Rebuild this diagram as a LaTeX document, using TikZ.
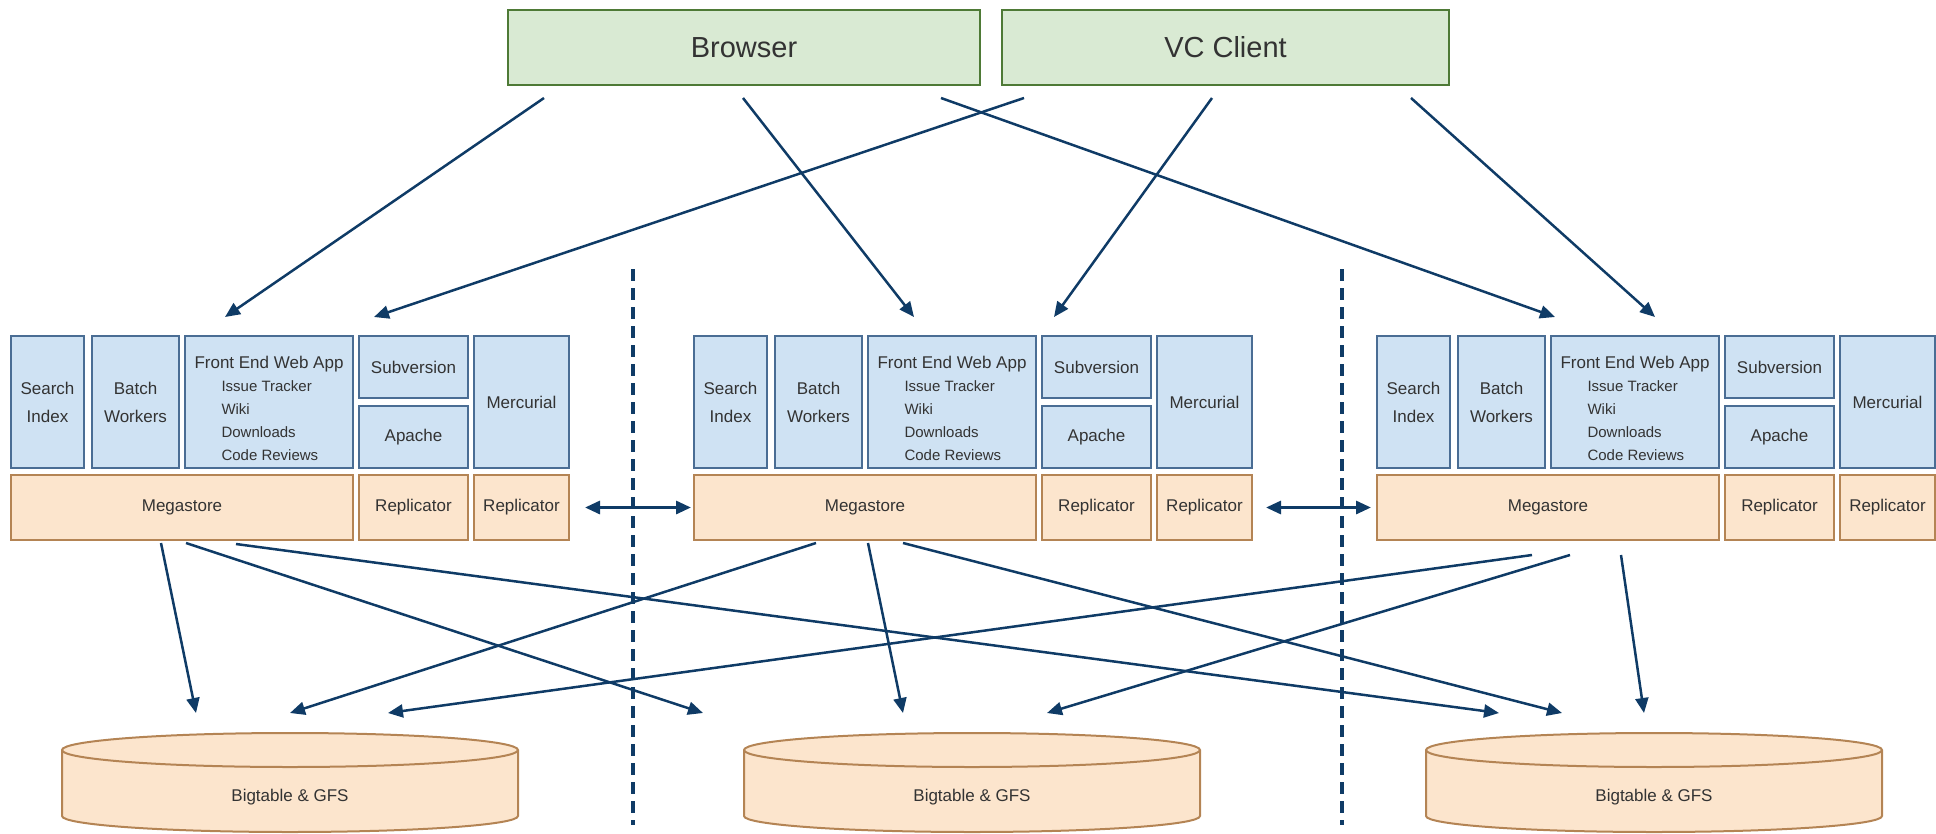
\documentclass[tikz,border=0pt]{standalone}
\usepackage{fontspec}
\setmainfont{Liberation Sans}
\usetikzlibrary{arrows.meta,calc}

\definecolor{boxblue}{HTML}{CFE2F3}
\definecolor{lineblue}{HTML}{4A6D94}
\definecolor{boxpeach}{HTML}{FCE5CD}
\definecolor{linepeach}{HTML}{B48454}
\definecolor{boxgreen}{HTML}{D9EAD3}
\definecolor{linegreen}{HTML}{4E7A36}
\definecolor{navy}{HTML}{0F3B66}
\definecolor{labelgray}{HTML}{333333}

\tikzset{
	client/.style={draw=linegreen, fill=boxgreen, line width=2pt, minimum height=75pt, inner sep=0pt, font=\fontsize{29}{34}\selectfont, text=labelgray},
	service/.style={draw=lineblue, fill=boxblue, line width=2pt, inner sep=0pt, align=center, font=\fontsize{17}{28}\selectfont, text=labelgray},
	tall/.style={minimum height=132pt},
	half/.style={minimum width=109pt, minimum height=62pt},
	webapp/.style={service, tall, minimum width=168pt, align=left, font=\fontsize{15}{23}\selectfont},
	store/.style={draw=linepeach, fill=boxpeach, line width=2pt, minimum height=65pt, inner sep=0pt, font=\fontsize{17}{20}\selectfont, text=labelgray},
	disk/.style={draw=linepeach, fill=boxpeach, line width=2pt},
	disklabel/.style={font=\fontsize{17}{20}\selectfont, text=labelgray},
	link/.style={navy, line width=2.5pt, -{Triangle[length=15pt,width=13pt]}},
	sync/.style={navy, line width=3pt, {Triangle[length=15pt,width=13pt]}-{Triangle[length=15pt,width=13pt]}},
	border/.style={navy, line width=4.5pt, dash pattern=on 12pt off 7pt},
}

\newcommand{\webapptext}{{\rule{0pt}{26pt}\fontsize{17}{23}\selectfont Front End Web App}\\\hspace*{27pt}Issue Tracker\\\hspace*{27pt}Wiki\\\hspace*{27pt}Downloads\\\hspace*{27pt}Code Reviews}

\begin{document}
\begin{tikzpicture}[x=1pt, y=-1pt]
	\useasboundingbox (0,0) rectangle (1936,833);

	% clients
	\node (br) [client, minimum width=472pt] at (744,47.5) {Browser};
	\node (vc) [client, minimum width=447pt] at (1225.5,47.5) {VC Client};

	% first site
	\node (si1) [service, tall, minimum width=73pt] at (47.5,402) {Search\\Index};
	\node (bw1) [service, tall, minimum width=87pt] at (135.5,402) {Batch\\Workers};
	\node (fe1) [webapp] at (269,402) {\webapptext};
	\node (sv1) [service, half] at (413.5,367) {Subversion};
	\node (ap1) [service, half] at (413.5,437) {Apache};
	\node (me1) [service, tall, minimum width=95pt] at (521.5,402) {Mercurial};
	\node (ms1) [store, minimum width=342pt] at (182,507.5) {Megastore};
	\node (ra1) [store, minimum width=109pt] at (413.5,507.5) {Replicator};
	\node (rb1) [store, minimum width=95pt] at (521.5,507.5) {Replicator};

	% second site
	\node (si2) [service, tall, minimum width=73pt] at (730.5,402) {Search\\Index};
	\node (bw2) [service, tall, minimum width=87pt] at (818.5,402) {Batch\\Workers};
	\node (fe2) [webapp] at (952,402) {\webapptext};
	\node (sv2) [service, half] at (1096.5,367) {Subversion};
	\node (ap2) [service, half] at (1096.5,437) {Apache};
	\node (me2) [service, tall, minimum width=95pt] at (1204.5,402) {Mercurial};
	\node (ms2) [store, minimum width=342pt] at (865,507.5) {Megastore};
	\node (ra2) [store, minimum width=109pt] at (1096.5,507.5) {Replicator};
	\node (rb2) [store, minimum width=95pt] at (1204.5,507.5) {Replicator};

	% third site
	\node (si3) [service, tall, minimum width=73pt] at (1413.5,402) {Search\\Index};
	\node (bw3) [service, tall, minimum width=87pt] at (1501.5,402) {Batch\\Workers};
	\node (fe3) [webapp] at (1635,402) {\webapptext};
	\node (sv3) [service, half] at (1779.5,367) {Subversion};
	\node (ap3) [service, half] at (1779.5,437) {Apache};
	\node (me3) [service, tall, minimum width=95pt] at (1887.5,402) {Mercurial};
	\node (ms3) [store, minimum width=342pt] at (1548,507.5) {Megastore};
	\node (ra3) [store, minimum width=109pt] at (1779.5,507.5) {Replicator};
	\node (rb3) [store, minimum width=95pt] at (1887.5,507.5) {Replicator};

	% storage
	\draw[disk] (62,750) -- (62,816) arc[start angle=180, end angle=0, x radius=228, y radius=16] -- (518,750) arc[start angle=0, end angle=-180, x radius=228, y radius=17] -- cycle;
	\draw[draw=linepeach, line width=2pt] (62,750) arc[start angle=180, end angle=0, x radius=228, y radius=17];
	\draw[disk] (744,750) -- (744,816) arc[start angle=180, end angle=0, x radius=228, y radius=16] -- (1200,750) arc[start angle=0, end angle=-180, x radius=228, y radius=17] -- cycle;
	\draw[draw=linepeach, line width=2pt] (744,750) arc[start angle=180, end angle=0, x radius=228, y radius=17];
	\draw[disk] (1426,750) -- (1426,816) arc[start angle=180, end angle=0, x radius=228, y radius=16] -- (1882,750) arc[start angle=0, end angle=-180, x radius=228, y radius=17] -- cycle;
	\draw[draw=linepeach, line width=2pt] (1426,750) arc[start angle=180, end angle=0, x radius=228, y radius=17];
	\node (db1) [disklabel] at (290,797) {Bigtable \& GFS};
	\node (db2) [disklabel] at (972,797) {Bigtable \& GFS};
	\node (db3) [disklabel] at (1654,797) {Bigtable \& GFS};
	\coordinate (db1top) at (290,733);
	\coordinate (db2top) at (972,733);
	\coordinate (db3top) at (1654,733);

	% site borders
	\draw[border] (633,269) -- (633,825);
	\draw[border] (1342,269) -- (1342,825);

	% clients to sites
	\draw[link] ($(br.south west)+(37,12)$) -- ($(fe1.north west)+(41,-18)$);
	\draw[link] ($(br.south west)+(236,12)$) -- ($(fe2.north west)+(47,-18)$);
	\draw[link] ($(br.south west)+(434,12)$) -- ($(fe3.north west)+(5,-18)$);
	\draw[link] ($(vc.south west)+(23,12)$) -- ($(sv1.north west)+(16,-18)$);
	\draw[link] ($(vc.south west)+(211,12)$) -- ($(sv2.north west)+(13,-18)$);
	\draw[link] ($(vc.south west)+(410,12)$) -- ($(fe3.north west)+(105,-18)$);

	% replication
	\draw[sync] ([xshift=15pt]rb1.east) -- ([xshift=-2pt]ms2.west);
	\draw[sync] ([xshift=13pt]rb2.east) -- ([xshift=-5pt]ms3.west);

	% megastore to storage
	\draw[link] ($(ms1.south west)+(151,2)$) -- ($(db1top)+(-94,-20)$);
	\draw[link] ($(ms1.south west)+(176,2)$) -- ($(db2top)+(-269,-20)$);
	\draw[link] ($(ms1.south west)+(226,3)$) -- ($(db3top)+(-155,-20)$);
	\draw[link] ($(ms2.south west)+(123,2)$) -- ($(db1top)+(0,-20)$);
	\draw[link] ($(ms2.south west)+(175,2)$) -- ($(db2top)+(-69,-20)$);
	\draw[link] ($(ms2.south west)+(210,2)$) -- ($(db3top)+(-92,-20)$);
	\draw[link] ($(ms3.south west)+(156,14)$) -- ($(db1top)+(98,-20)$);
	\draw[link] ($(ms3.south west)+(194,14)$) -- ($(db2top)+(75,-20)$);
	\draw[link] ($(ms3.south west)+(245,14)$) -- ($(db3top)+(-10,-20)$);
\end{tikzpicture}
\end{document}
